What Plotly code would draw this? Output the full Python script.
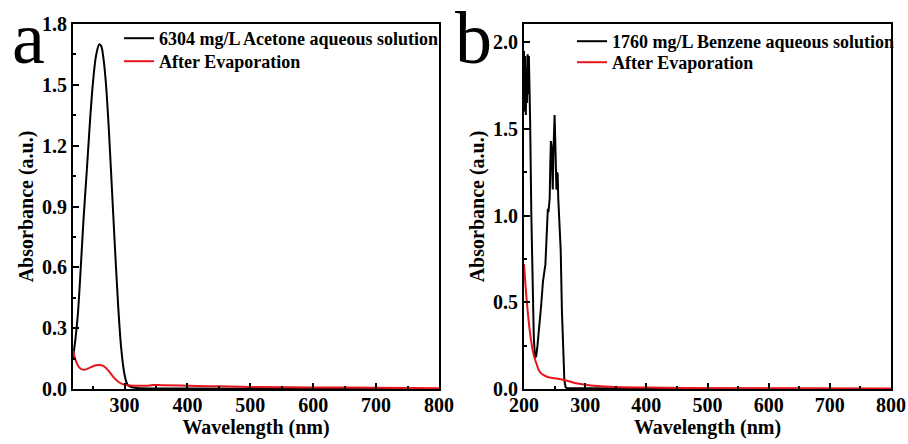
import plotly.graph_objects as go

# ---- Panel a: acetone ----
a_black_wl = [218, 220, 222, 224, 226, 230, 235, 240, 245, 250, 255, 260, 263, 266, 270, 275, 280, 285, 290, 295, 300, 305, 310, 320, 400, 600, 800]
a_black_abs = [0.15, 0.20, 0.25, 0.31, 0.38, 0.58, 0.85, 1.08, 1.32, 1.52, 1.65, 1.70, 1.69, 1.64, 1.52, 1.28, 0.98, 0.68, 0.40, 0.19, 0.07, 0.02, 0.01, 0.005, 0.002, 0.001, 0.0]
a_red_wl = [218, 220, 223, 226, 230, 235, 240, 245, 250, 255, 260, 265, 270, 275, 280, 285, 290, 295, 300, 310, 320, 340, 345, 360, 400, 450, 500, 600, 700, 800]
a_red_abs = [0.19, 0.165, 0.135, 0.115, 0.10, 0.095, 0.098, 0.105, 0.112, 0.117, 0.118, 0.115, 0.105, 0.088, 0.068, 0.050, 0.036, 0.027, 0.021, 0.017, 0.016, 0.017, 0.020, 0.019, 0.016, 0.013, 0.010, 0.008, 0.006, 0.004]

# ---- Panel b: benzene ----
b_black_wl = [200, 201, 202, 203, 204, 205, 206, 207, 208, 209, 210, 212, 214, 216, 218, 220, 222, 225, 228, 231, 233, 234, 235, 236, 238, 239, 240, 241, 242, 243, 244, 245, 246, 247, 248, 249, 250, 251, 252, 253, 254, 255, 256, 257, 258, 260, 262, 264, 266, 268, 270, 300, 800]
b_black_abs = [1.95, 1.60, 1.92, 1.58, 1.85, 1.65, 1.93, 1.70, 1.92, 1.75, 1.55, 1.00, 0.60, 0.30, 0.18, 0.19, 0.25, 0.35, 0.48, 0.62, 0.69, 0.70, 0.72, 0.80, 0.95, 1.04, 1.02, 1.05, 1.10, 1.30, 1.43, 1.40, 1.18, 1.15, 1.35, 1.52, 1.58, 1.45, 1.20, 1.15, 1.25, 1.24, 1.10, 1.02, 1.00, 0.80, 0.45, 0.18, 0.05, 0.01, 0.005, 0.005, 0.0]
b_red_wl = [200, 202, 204, 206, 208, 210, 212, 215, 218, 221, 224, 227, 230, 235, 240, 250, 260, 270, 280, 290, 300, 320, 350, 400, 500, 600, 800]
b_red_abs = [0.72, 0.62, 0.53, 0.45, 0.38, 0.32, 0.27, 0.21, 0.17, 0.14, 0.11, 0.095, 0.085, 0.075, 0.068, 0.062, 0.056, 0.048, 0.038, 0.030, 0.024, 0.017, 0.012, 0.008, 0.005, 0.004, 0.003]

FONT = "Liberation Serif"

fig = go.Figure()
fig.add_trace(go.Scatter(x=a_black_wl, y=a_black_abs, mode="lines", line=dict(color="black", width=2, shape="spline"),
                         name="<b>6304 mg/L Acetone aqueous solution</b>", xaxis="x", yaxis="y",
                         legend="legend", showlegend=True))
fig.add_trace(go.Scatter(x=a_red_wl, y=a_red_abs, mode="lines", line=dict(color="#e8141b", width=2, shape="spline"),
                         name="<b>After Evaporation</b>", xaxis="x", yaxis="y", legend="legend2", showlegend=True))
fig.add_trace(go.Scatter(x=b_black_wl, y=b_black_abs, mode="lines", line=dict(color="black", width=2),
                         name="<b>1760 mg/L Benzene aqueous solution</b>", xaxis="x2", yaxis="y2",
                         legend="legend3", showlegend=True))
fig.add_trace(go.Scatter(x=b_red_wl, y=b_red_abs, mode="lines", line=dict(color="#e8141b", width=2, shape="spline"),
                         name="<b>After Evaporation</b>", xaxis="x2", yaxis="y2", legend="legend4", showlegend=True))

W, H = 908, 444
def px(x):
    return x / W
def py(y):
    return 1 - y / H

tickfont = dict(family=FONT, size=20, color="black")
titlefont = dict(family=FONT, size=20, color="black")

common_axis = dict(showline=True, linecolor="black", linewidth=2, mirror=True, ticks="inside",
                   ticklen=6, tickwidth=2, tickcolor="black", showgrid=False, zeroline=False,
                   tickfont=tickfont, automargin=False)

def leg(x, y):
    return dict(x=px(x), y=py(y), xanchor="left", yanchor="top", bgcolor="rgba(0,0,0,0)",
                font=dict(family=FONT, size=18, color="black"), itemwidth=30, visible=True)

fig.update_layout(
    width=W, height=H, margin=dict(l=0, r=0, t=0, b=0, autoexpand=False),
    plot_bgcolor="white", paper_bgcolor="white", showlegend=True,
    xaxis=dict(domain=[px(73), px(439)], range=[218, 800], tick0=300, dtick=100,
               minor=dict(ticks="inside", ticklen=3, tickwidth=1.5, tickcolor="black", dtick=50, tick0=250),
               title=dict(text="<b>Wavelength (nm)</b>", font=titlefont, standoff=0),
               ticklabelstandoff=-3,
               tickprefix="<b>", ticksuffix="</b>", anchor="y", **common_axis),
    yaxis=dict(domain=[py(389), py(24)], range=[0, 1.8], tick0=0, dtick=0.3, tickformat=".1f",
               minor=dict(ticks="inside", ticklen=3, tickwidth=1.5, tickcolor="black", dtick=0.15),
               title=dict(text="<b>Absorbance (a.u.)</b>", font=titlefont, standoff=3),
               tickprefix="<b>", ticksuffix="</b>", anchor="x", **common_axis),
    xaxis2=dict(domain=[px(524), px(891)], range=[200, 800], tick0=200, dtick=100,
                minor=dict(ticks="inside", ticklen=3, tickwidth=1.5, tickcolor="black", dtick=50, tick0=250),
                title=dict(text="<b>Wavelength (nm)</b>", font=titlefont, standoff=0),
                ticklabelstandoff=-3,
                tickprefix="<b>", ticksuffix="</b>", anchor="y2", **common_axis),
    yaxis2=dict(domain=[py(389), py(24)], range=[0, 2.105], tick0=0, dtick=0.5, tickformat=".1f",
                minor=dict(ticks="inside", ticklen=3, tickwidth=1.5, tickcolor="black", dtick=0.25),
                title=dict(text="<b>Absorbance (a.u.)</b>", font=titlefont, standoff=3),
                tickprefix="<b>", ticksuffix="</b>", anchor="x2", **common_axis),
    legend=leg(119, 20),
    legend2=leg(119, 43),
    legend3=leg(572, 23),
    legend4=leg(572, 44),
    annotations=[
        dict(text="a", x=px(10), y=1, xref="paper", yref="paper", xanchor="left", yanchor="top",
             showarrow=False, font=dict(family=FONT, size=74, color="black"), yshift=5),
        dict(text="b", x=px(453), y=1, xref="paper", yref="paper", xanchor="left", yanchor="top",
             showarrow=False, font=dict(family=FONT, size=74, color="black"), yshift=5),
    ],
)

fig.write_html("out.html", config={"displayModeBar": False},
               post_script="document.body.style.margin='0';document.body.style.padding='0';")
